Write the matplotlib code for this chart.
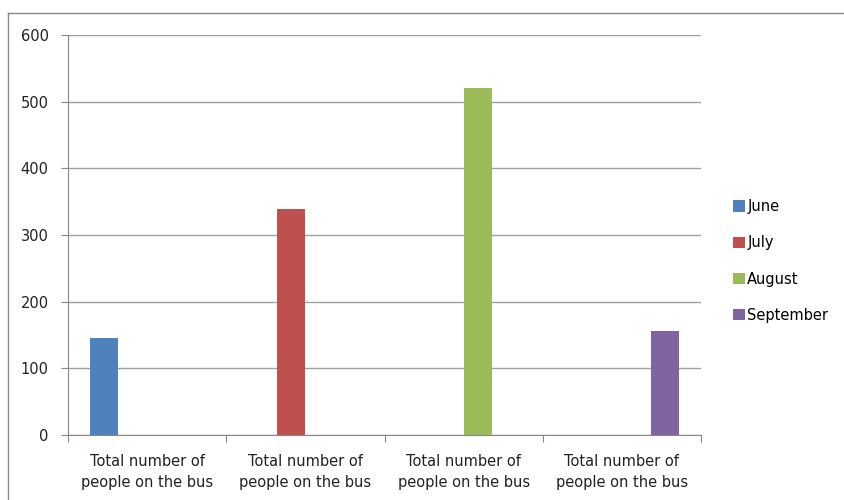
import numpy as np
import matplotlib
matplotlib.use("Agg")
import matplotlib.pyplot as plt
from matplotlib.lines import Line2D

categories = ["Total number of\npeople on the bus"] * 4
series = ["June", "July", "August", "September"]
values = {
    "June":      [145, 0, 0, 0],
    "July":      [0, 339, 0, 0],
    "August":    [0, 0, 520, 0],
    "September": [0, 0, 0, 156],
}
colors = ["#4F81BD", "#C0504D", "#9BBB59", "#8064A2"]

plt.rcParams['font.family'] = ['DejaVu Sans']

fig = plt.figure(figsize=(8.44, 5), dpi=100)
ax = fig.add_axes([68 / 844, 65 / 500, 633 / 844, 400 / 500])

x = np.arange(len(categories))
w = 1 / 5.5
for j, name in enumerate(series):
    pos = x - 0.5 + 0.75 * w + (j + 0.5) * w
    ax.bar(pos, values[name], width=w, color=colors[j], label=name, zorder=3)

ax.set_xlim(-0.5, 3.5)
ax.set_ylim(0, 600)
ax.set_yticks(range(0, 601, 100))
ax.yaxis.grid(True, color="#a0a0a0", linewidth=1, zorder=0)

# category ticks on group boundaries, labels at centers
ax.set_xticks(np.arange(-0.5, 4, 1))
ax.set_xticklabels([])
ax.set_xticks(x, minor=True)
ax.set_xticklabels(categories, minor=True, fontsize=10.5, linespacing=1.45,
                   color="#222222")
ax.tick_params(axis="x", which="minor", length=0, pad=14)
ax.tick_params(axis="x", which="major", length=5, color="#888888")
ax.tick_params(axis="y", length=5, color="#888888", labelsize=10.5, pad=9,
               labelcolor="#222222")

for s in ["top", "right"]:
    ax.spines[s].set_visible(False)
for s in ["left", "bottom"]:
    ax.spines[s].set_color("#888888")

ax.legend(loc="center left", bbox_to_anchor=(1.041, 0.435), frameon=False,
          fontsize=10.5, handlelength=0.85, handleheight=0.85,
          handletextpad=0.15, labelspacing=1.45, borderaxespad=0)

# outer chart border
fig.add_artist(Line2D([8 / 844, 1], [1 - 13 / 500] * 2, color="#888888", lw=1))
fig.add_artist(Line2D([8 / 844] * 2, [0, 1 - 13 / 500], color="#888888", lw=1))

fig.savefig("out.png", dpi=100)
